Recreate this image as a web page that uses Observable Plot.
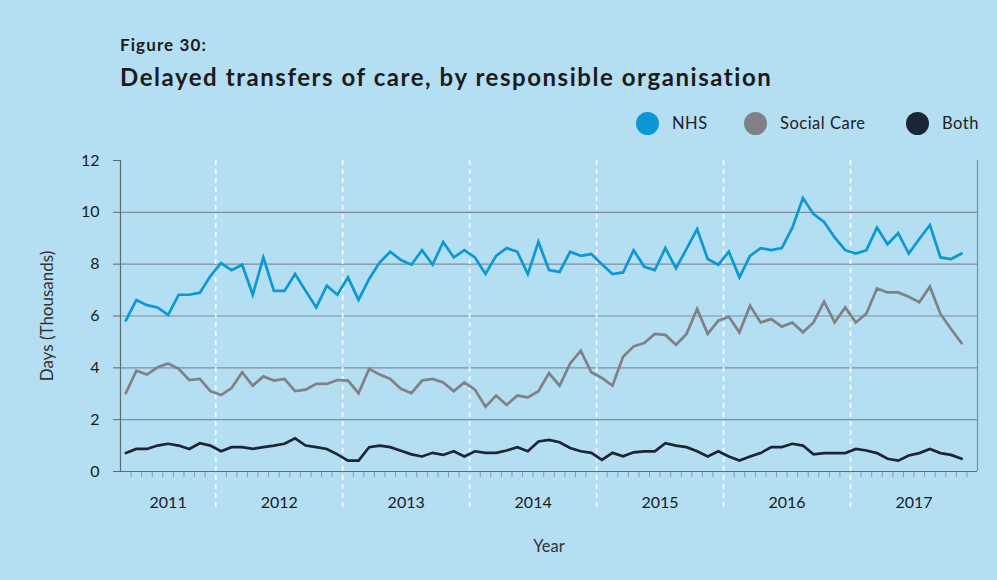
<!DOCTYPE html>
<html>
<head>
<meta charset="utf-8">
<script src="https://cdn.jsdelivr.net/npm/d3@7"></script>
<script src="https://cdn.jsdelivr.net/npm/@observablehq/plot@0.6"></script>
<style>
  html, body { margin: 0; padding: 0; }
  body { width: 997px; height: 580px; background: #b4def2; position: relative; overflow: hidden; font-family: Lato, "Open Sans", sans-serif; color: #1b1b1b; }
  .fig { position: absolute; left: 120px; top: 35px; font-size: 17px; font-weight: 700; line-height: 20px; letter-spacing: 1.1px; }
  .title { position: absolute; left: 120px; top: 63px; font-size: 24px; font-weight: 700; line-height: 28px; letter-spacing: 1.55px; }
  .leg { position: absolute; top: 111px; height: 24px; display: flex; align-items: center; font-size: 16.5px; color: #222; letter-spacing: 0.5px; }
  .leg span.dot { width: 23px; height: 23px; border-radius: 50%; display: inline-block; margin-right: 13px; }
  #chart { position: absolute; left: 0; top: 140px; }
</style>
</head>
<body>
<div class="fig">Figure 30:</div>
<div class="title">Delayed transfers of care, by responsible organisation</div>
<div id="legend"></div>
<div id="chart"></div>
<script>
// Monthly values, April 2011 – November 2017 (thousands of days)
const startYear = 2011;
const startMonth = 3; // April (0-based)
const seriesNames = ["NHS", "Social Care", "Both"];
const seriesColors = ["#0b98d5", "#808185", "#1c2536"];

const nhs = [5.82, 6.62, 6.42, 6.33, 6.04, 6.82, 6.82, 6.90, 7.54,
  8.04, 7.77, 7.98, 6.82, 8.26, 6.97, 6.97, 7.62, 6.97, 6.33, 7.17, 6.82,
  7.49, 6.62, 7.43, 8.07, 8.48, 8.16, 7.98, 8.54, 7.98, 8.86, 8.26, 8.54,
  8.26, 7.62, 8.32, 8.62, 8.48, 7.62, 8.86, 7.77, 7.70, 8.48, 8.32, 8.39,
  8.00, 7.62, 7.68, 8.54, 7.90, 7.77, 8.62, 7.84, 8.59, 9.35, 8.20, 7.98,
  8.48, 7.49, 8.32, 8.62, 8.54, 8.62, 9.41, 10.55, 9.93, 9.63, 9.03, 8.54,
  8.41, 8.54, 9.41, 8.77, 9.20, 8.41, 8.97, 9.51, 8.26, 8.20, 8.41];

const socialCare = [3.02, 3.89, 3.74, 4.02, 4.17, 3.96, 3.53, 3.57, 3.10,
  2.95, 3.22, 3.83, 3.31, 3.67, 3.51, 3.57, 3.10, 3.16, 3.38, 3.38, 3.53,
  3.51, 3.02, 3.96, 3.74, 3.57, 3.19, 3.02, 3.51, 3.57, 3.44, 3.10, 3.44,
  3.16, 2.50, 2.93, 2.57, 2.93, 2.86, 3.10, 3.80, 3.31, 4.17, 4.66, 3.83,
  3.61, 3.31, 4.43, 4.83, 4.96, 5.31, 5.27, 4.89, 5.31, 6.27, 5.31, 5.82,
  5.97, 5.37, 6.40, 5.75, 5.88, 5.59, 5.75, 5.37, 5.75, 6.55, 5.75, 6.33,
  5.75, 6.10, 7.06, 6.91, 6.91, 6.74, 6.53, 7.13, 6.08, 5.50, 4.95];

const both = [0.71, 0.87, 0.87, 1.00, 1.07, 1.00, 0.87, 1.09, 1.00,
  0.78, 0.94, 0.94, 0.87, 0.94, 1.00, 1.07, 1.28, 1.00, 0.94, 0.87, 0.66,
  0.42, 0.42, 0.94, 1.00, 0.94, 0.80, 0.66, 0.58, 0.72, 0.64, 0.78, 0.58,
  0.78, 0.72, 0.72, 0.81, 0.94, 0.78, 1.16, 1.22, 1.13, 0.91, 0.78, 0.72,
  0.45, 0.72, 0.59, 0.74, 0.78, 0.78, 1.09, 1.00, 0.94, 0.78, 0.58, 0.78,
  0.58, 0.42, 0.58, 0.71, 0.94, 0.94, 1.07, 1.00, 0.66, 0.71, 0.71, 0.71,
  0.87, 0.81, 0.71, 0.49, 0.42, 0.62, 0.71, 0.87, 0.71, 0.64, 0.49];

const yTicks = [0, 2, 4, 6, 8, 10, 12];
const yearLabels = ["2011", "2012", "2013", "2014", "2015", "2016", "2017"];

// ---- derived tables ----
const n = nhs.length;
const rows = [];
[nhs, socialCare, both].forEach((vals, k) =>
  vals.forEach((v, i) => rows.push({i, v, name: seriesNames[k]})));

const yearOf = i => startYear + Math.floor((i + startMonth) / 12);
const lastSlot = n + 0.5; // axis runs one empty month beyond the data
const yearBoundaries = d3.range(1, n).filter(i => (i + startMonth) % 12 === 0).map(i => i - 0.5);
const monthTicks = d3.range(0, n).map(i => i + 0.5).filter(t => !yearBoundaries.includes(t));
const years = yearLabels.map(y => {
  const idx = d3.range(0, n + 1).filter(i => yearOf(i) === +y);
  return {year: y, center: (d3.min(idx) - 0.5 + Math.min(d3.max(idx) + 0.5, lastSlot)) / 2};
});

// ---- legend ----
const legendLeft = [636, 744, 906];
const legend = document.getElementById("legend");
seriesNames.forEach((name, k) => {
  const d = document.createElement("div");
  d.className = "leg";
  d.style.left = legendLeft[k] + "px";
  d.innerHTML = `<span class="dot" style="background:${seriesColors[k]}"></span><span>${name}</span>`;
  legend.appendChild(d);
});

// ---- chart ----
const gridColor = "#7f8f99";
const axisColor = "#5d6c75";
const chart = Plot.plot({
  width: 997,
  height: 440,
  marginLeft: 120,
  marginRight: 20,
  marginTop: 20,
  marginBottom: 109,
  style: {background: "transparent", fontFamily: "Lato, 'Open Sans', sans-serif", color: "#1b1b1b"},
  x: {domain: [-0.5, lastSlot]},
  y: {domain: [0, 12]},
  color: {domain: seriesNames, range: seriesColors},
  marks: [
    Plot.gridY(yTicks.filter(t => t > 0 && t < 12), {stroke: gridColor, strokeOpacity: 1, strokeWidth: 1.2}),
    Plot.axisY({ticks: yTicks, tickSize: 7, tickPadding: 14, fontSize: 16, stroke: axisColor, strokeWidth: 1, label: null}),
    Plot.axisY({ticks: [], label: "Days (Thousands)", labelAnchor: "center", labelOffset: 80, labelArrow: "none",
      fontSize: 17, fill: "#333"}),
    Plot.axisX({ticks: monthTicks, tickSize: 6, tickFormat: () => "", stroke: "#8a98a0", label: null}),
    Plot.axisX({ticks: [], label: "Year", labelAnchor: "center", labelOffset: 80, labelArrow: "none", fontSize: 16.5, fill: "#333"}),
    Plot.ruleX(yearBoundaries, {y1: 12, y2: 0, insetBottom: -37, stroke: "#ffffff", strokeWidth: 1.6, strokeDasharray: "5,4", strokeOpacity: 0.9}),
    Plot.ruleY([0], {stroke: axisColor, strokeWidth: 1.2}),
    Plot.ruleX([-0.5], {y1: 0, y2: 12, stroke: axisColor, strokeWidth: 1.2}),
    Plot.ruleX([lastSlot], {y1: 0, y2: 12, stroke: gridColor, strokeWidth: 1.2}),
    Plot.text(years, {x: "center", y: 0, text: "year", dy: 31, fontSize: 16, fill: "#1b1b1b"}),
    Plot.line(rows, {x: "i", y: "v", z: "name", stroke: "name", strokeWidth: 2.7, strokeLinejoin: "miter", strokeMiterlimit: 4})
  ]
});
document.getElementById("chart").appendChild(chart);
</script>
</body>
</html>
